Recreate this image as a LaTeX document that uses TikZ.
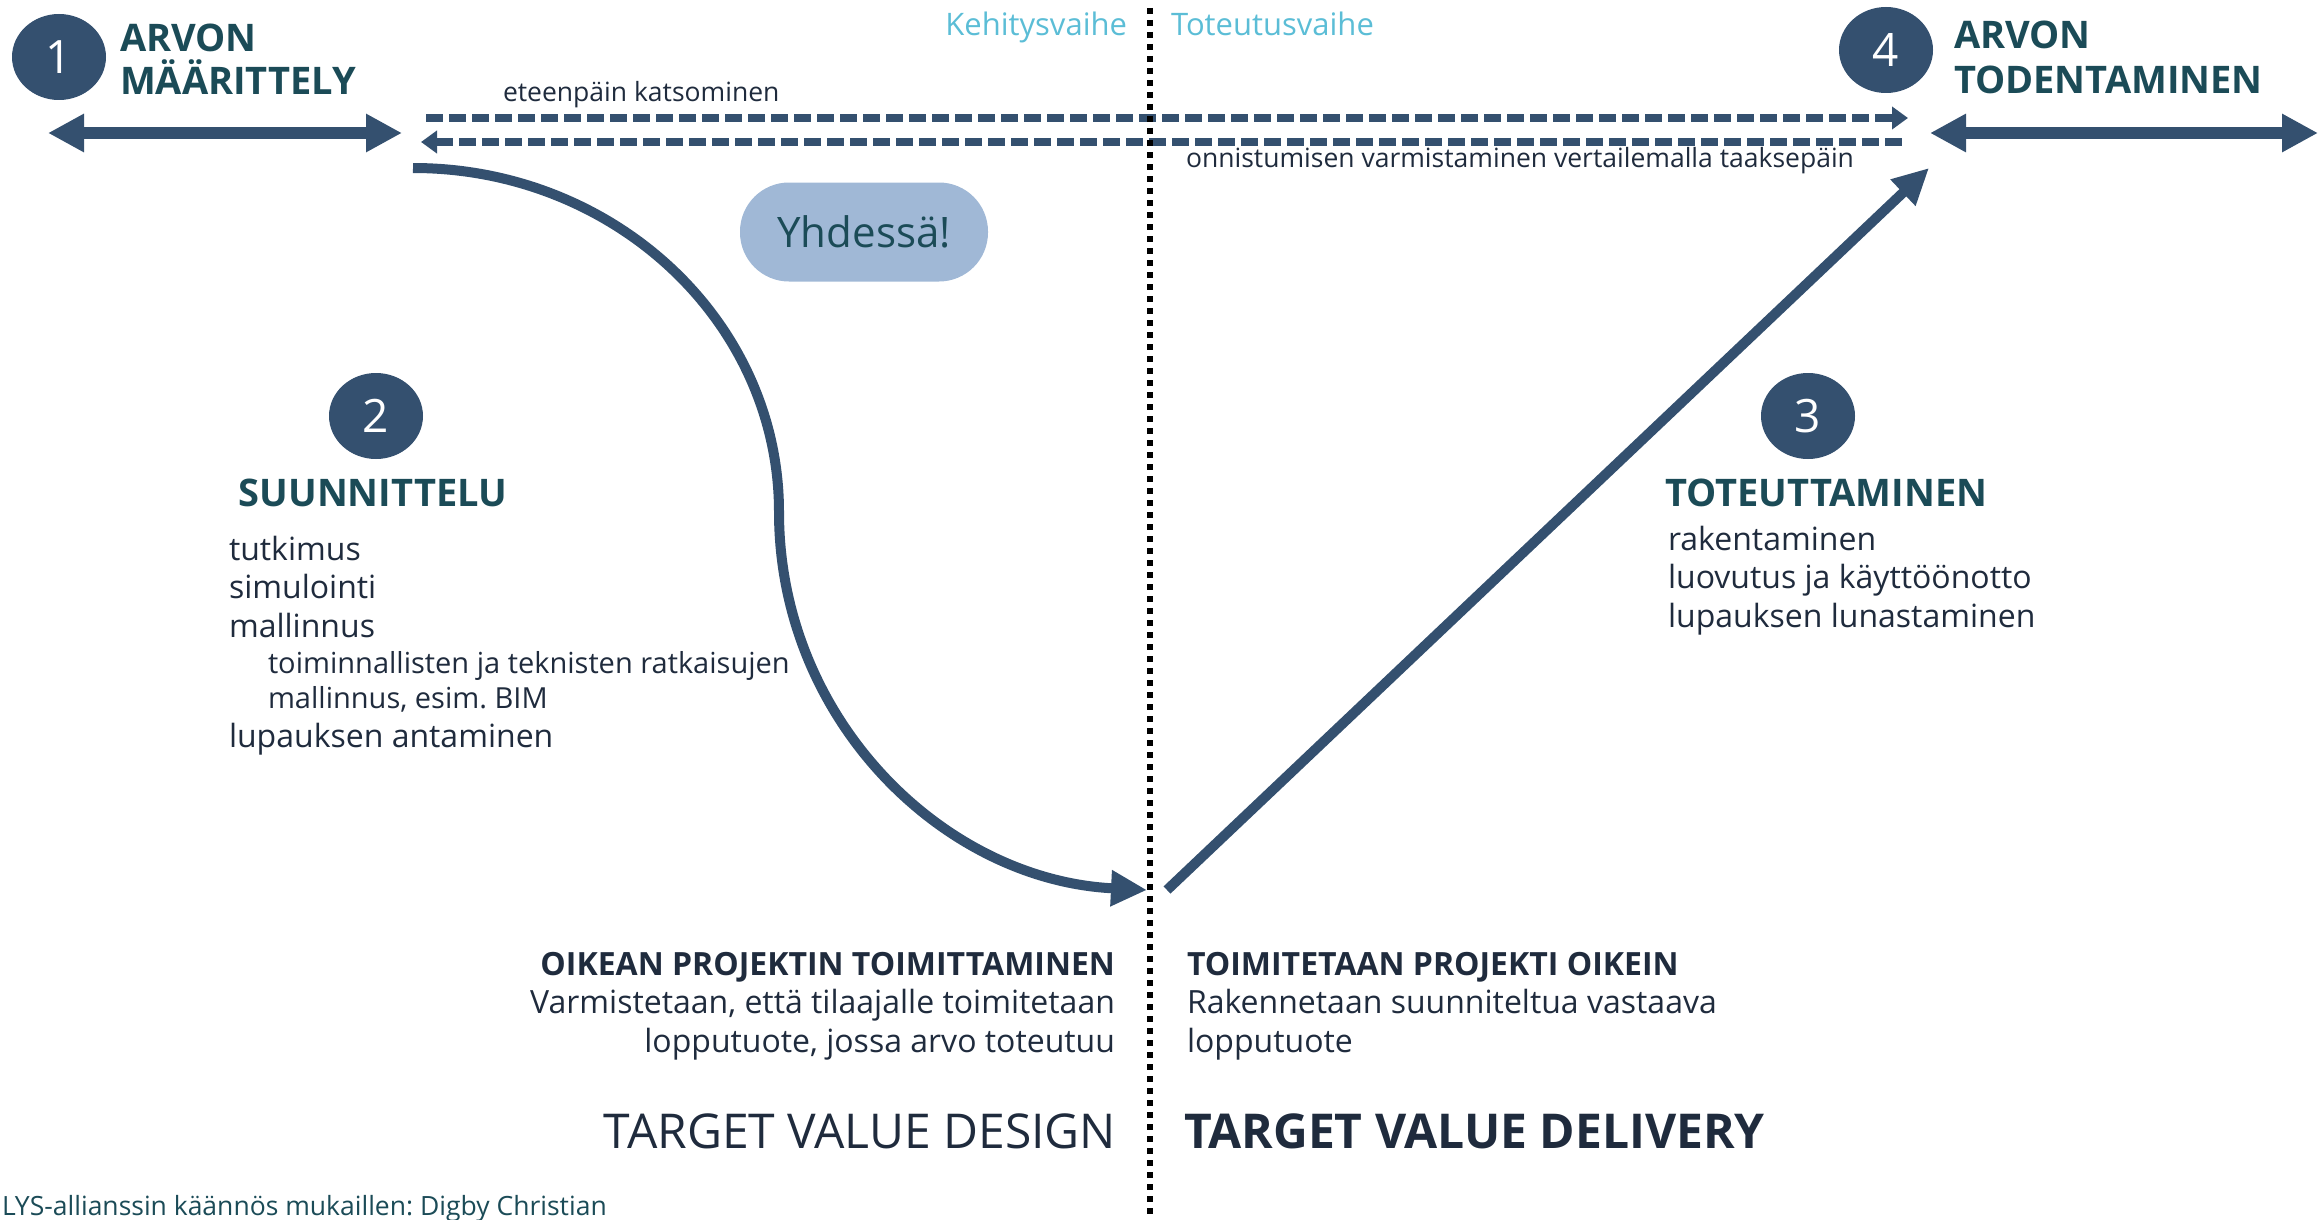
\documentclass[tikz,border=0pt]{standalone}
\usepackage{fontspec}
\setmainfont{Open Sans}
\usetikzlibrary{arrows.meta,shapes.geometric}
\definecolor{navy}{HTML}{34506F}
\definecolor{headteal}{HTML}{1B4B57}
\definecolor{txt}{HTML}{1F2B3D}
\definecolor{phase}{HTML}{5BBDD6}
\definecolor{boxblue}{HTML}{A0B8D6}
\frenchspacing
\begin{document}
\begin{tikzpicture}[x=1pt,y=-1pt,
  every node/.style={inner sep=0pt,outer sep=0pt},
  num/.style={ellipse,fill=navy,minimum width=94pt,minimum height=86pt,text=white,font=\fontsize{46}{46}\selectfont},
  headtxt/.style={text=headteal,font=\fontsize{38}{40}\selectfont\bfseries},
  listtxt/.style={text=txt,font=\fontsize{32}{36}\selectfont},
  subtxt/.style={text=txt,font=\fontsize{29}{33}\selectfont},
  smalltxt/.style={text=txt,font=\fontsize{26.5}{30}\selectfont},
  phasetxt/.style={text=phase,font=\fontsize{31}{34}\selectfont},
  bothead/.style={text=txt,font=\fontsize{32}{36}\selectfont\bfseries},
  bigtxt/.style={text=txt,font=\fontsize{48}{52}\selectfont},
  bigarrow/.style={navy,line width=12pt,{Triangle[length=36pt,width=36pt]}-{Triangle[length=36pt,width=36pt]}},
  dashline/.style={navy,line width=7.5pt,dash pattern=on 17pt off 6pt},
  mainarrow/.style={navy,line width=10pt,-{Triangle[length=36pt,width=34pt]}},
  divider/.style={black,line width=6pt,dash pattern=on 6pt off 6pt}
]
\useasboundingbox (0,0) rectangle (2323,1220);

% circles with numbers
\node[num] (n1) at (59,57) {1};
\node[num] (n2) at (376,416) {2};
\node[num] (n3) at (1808,416) {3};
\node[num] (n4) at (1886,50) {4};

% headings
\node[headtxt,anchor=base west] (h1a) at (120,52) {ARVON};
\node[headtxt,anchor=base west] (h1b) at (120,95) {MÄÄRITTELY};
\node[headtxt,anchor=base west] (h4a) at (1954,49) {ARVON};
\node[headtxt,anchor=base west] (h4b) at (1954,94) {TODENTAMINEN};
\node[headtxt,anchor=base] (h2) at (373,506) {SUUNNITTELU};
\node[headtxt,anchor=base west] (h3) at (1665,506) {TOTEUTTAMINEN};

% phase labels
\node[phasetxt,anchor=base east] (pk) at (1127,36) {Kehitysvaihe};
\node[phasetxt,anchor=base west] (pt) at (1171,36) {Toteutusvaihe};

% horizontal double arrows
\coordinate (la1) at (48,133);
\coordinate (la2) at (402,133);
\coordinate (ra1) at (1930,133);
\coordinate (ra2) at (2318,133);
\draw[bigarrow] (la1) -- (la2);
\draw[bigarrow] (ra1) -- (ra2);

% dashed arrows
\coordinate (d1a) at (426,118);
\coordinate (d1b) at (1908,118);
\coordinate (d2a) at (421,142);
\coordinate (d2b) at (1903,142);
\draw[dashline,-{Triangle[length=16pt,width=22pt]}] (d1a) -- (d1b);
\draw[dashline,{Triangle[length=16pt,width=22pt]}-] (d2a) -- (d2b);
\node[smalltxt,anchor=base west] (lfwd) at (503,102) {eteenpäin katsominen};
\node[smalltxt,anchor=base west] (lbwd) at (1186,167) {onnistumisen varmistaminen vertailemalla taaksepäin};

% together box
\node[fill=boxblue,rounded corners=49pt,minimum width=248pt,minimum height=99pt,text=headteal,font=\fontsize{42}{44}\selectfont] (yh) at (864,232) {Yhdessä!};

% main curve arrow
\coordinate (cs) at (413,168);
\coordinate (cm) at (779,512);
\coordinate (ce) at (1147,890);
\draw[mainarrow] (cs) .. controls (615,168) and (779,322) .. (cm) .. controls (779,720) and (944,880) .. (ce);

% straight arrow
\coordinate (ss) at (1167,890);
\coordinate (se) at (1929,168);
\draw[mainarrow] (ss) -- (se);

% left list
\node[listtxt,anchor=base west] (l1) at (229,560) {tutkimus};
\node[listtxt,anchor=base west] (l2) at (229,598) {simulointi};
\node[listtxt,anchor=base west] (l3) at (229,637) {mallinnus};
\node[subtxt,anchor=base west] (l4) at (268,673) {toiminnallisten ja teknisten ratkaisujen};
\node[subtxt,anchor=base west] (l5) at (268,708) {mallinnus, esim. BIM};
\node[listtxt,anchor=base west] (l6) at (229,747) {lupauksen antaminen};

% right list
\node[listtxt,anchor=base west] (r1) at (1668,550) {rakentaminen};
\node[listtxt,anchor=base west] (r2) at (1668,588) {luovutus ja käyttöönotto};
\node[listtxt,anchor=base west] (r3) at (1668,627) {lupauksen lunastaminen};

% bottom texts
\node[bothead,anchor=base east] (b1) at (1115,975) {OIKEAN PROJEKTIN TOIMITTAMINEN};
\node[listtxt,anchor=base east] (b2) at (1115,1013) {Varmistetaan, että tilaajalle toimitetaan};
\node[listtxt,anchor=base east] (b3) at (1115,1052) {lopputuote, jossa arvo toteutuu};
\node[bigtxt,anchor=base east] (tvd) at (1116,1148) {TARGET VALUE DESIGN};
\node[bothead,anchor=base west] (c1) at (1187,975) {TOIMITETAAN PROJEKTI OIKEIN};
\node[listtxt,anchor=base west] (c2) at (1187,1013) {Rakennetaan suunniteltua vastaava};
\node[listtxt,anchor=base west] (c3) at (1187,1052) {lopputuote};
\node[bigtxt,font=\fontsize{48}{52}\selectfont\bfseries,anchor=base west] (tvl) at (1184,1148) {TARGET VALUE DELIVERY};

% footer
\node[text=headteal,font=\fontsize{26.5}{30}\selectfont,anchor=base west] (foot) at (2,1215) {LYS-allianssin käännös mukaillen: Digby Christian};

% divider
\coordinate (v1) at (1150,8);
\coordinate (v2) at (1150,1220);
\draw[divider] (v1) -- (v2);
\end{tikzpicture}
\end{document}
